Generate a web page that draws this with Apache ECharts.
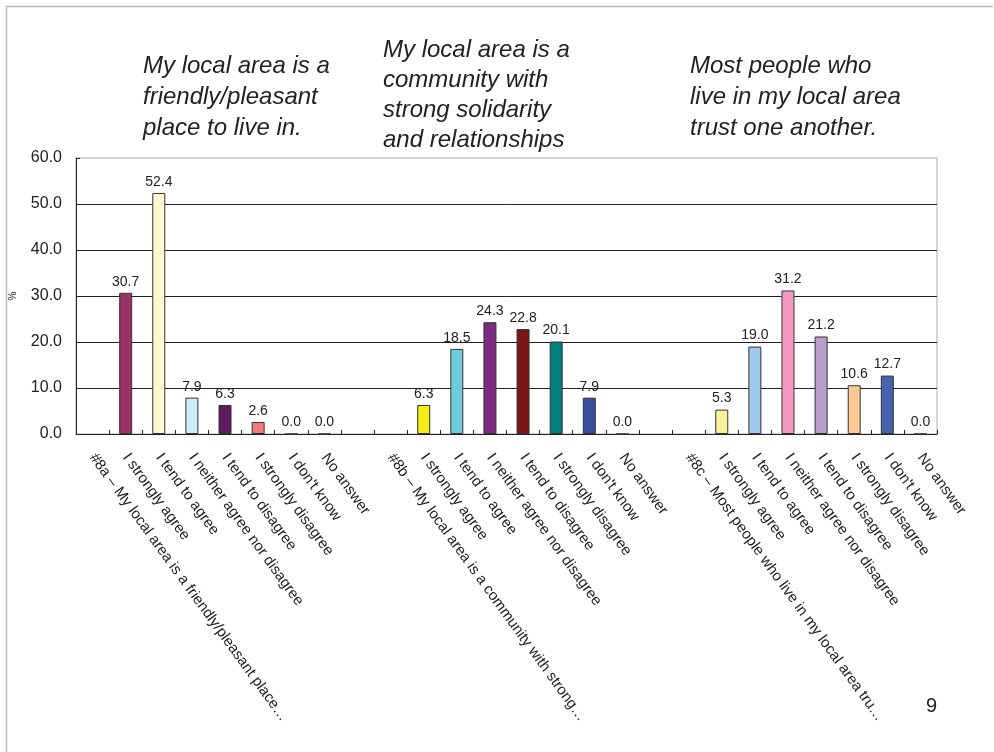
<!DOCTYPE html>
<html>
<head>
<meta charset="utf-8">
<script src="https://cdn.jsdelivr.net/npm/echarts@6/dist/echarts.min.js"></script>
<style>
  html, body { margin: 0; padding: 0; background: #fff; }
  #chart { width: 994px; height: 752px; }
</style>
</head>
<body>
<div id="chart"></div>
<script>
// categories: question header, 7 answers, spacer
const categories = [
  '#8a \u2013 My local area is a friendly/pleasant place\u2026',
  'I strongly agree', 'I tend to agree', 'I neither agree nor disagree',
  'I tend to disagree', 'I strongly disagree', "I don't know", 'No answer',
  '',
  '#8b \u2013 My local area is a community with strong\u2026',
  'I strongly agree', 'I tend to agree', 'I neither agree nor disagree',
  'I tend to disagree', 'I strongly disagree', "I don't know", 'No answer',
  '',
  '#8c \u2013 Most people who live in my local area tru\u2026',
  'I strongly agree', 'I tend to agree', 'I neither agree nor disagree',
  'I tend to disagree', 'I strongly disagree', "I don't know", 'No answer'
];

const values = [
  null, 30.7, 52.4, 7.9, 6.3, 2.6, 0.0, 0.0,
  null,
  null, 6.3, 18.5, 24.3, 22.8, 20.1, 7.9, 0.0,
  null,
  null, 5.3, 19.0, 31.2, 21.2, 10.6, 12.7, 0.0
];

const barColors = [
  null, '#993366', '#FCF8D0', '#D0ECF4', '#5E1A5E', '#F47C7C', '#CCCCCC', '#CCCCCC',
  null,
  null, '#F6EC16', '#6CCCDC', '#7E2A80', '#7C1619', '#00807E', '#3A4DA0', '#CCCCCC',
  null,
  null, '#F9F29A', '#A0C8EC', '#F49AC2', '#B89CCC', '#FCC894', '#4662AE', '#CCCCCC'
];

const yTicks = [0, 60, 10]; // min, max, interval

const titles = [
  'My local area is a\nfriendly/pleasant\nplace to live in.',
  'My local area is a\ncommunity with\nstrong solidarity\nand relationships',
  'Most people who\nlive in my local area\ntrust one another.'
];

const FONT = '"Liberation Sans", Arial, sans-serif';

const chart = echarts.init(document.getElementById('chart'));

const titleStyle = {
  fontFamily: FONT, fontStyle: 'italic', fontWeight: 'normal',
  fontSize: 24, lineHeight: 31, color: '#222'
};

chart.setOption({
  backgroundColor: '#fff',
  animation: false,
  title: [
    { text: titles[0], left: 143, top: 51, padding: 0, textStyle: titleStyle },
    { text: titles[1], left: 383, top: 35, padding: 0, textStyle: Object.assign({}, titleStyle, { lineHeight: 30 }) },
    { text: titles[2], left: 690, top: 51, padding: 0, textStyle: titleStyle }
  ],
  graphic: [
    { type: 'line', shape: { x1: 6, y1: 6.5, x2: 993, y2: 6.5 }, style: { stroke: '#bbb', lineWidth: 1.5 } },
    { type: 'line', shape: { x1: 6.5, y1: 6, x2: 6.5, y2: 752 }, style: { stroke: '#bbb', lineWidth: 1.5 } },
    { type: 'text', left: 926, top: 696, style: { text: '9', font: '20px ' + FONT, fill: '#222' } }
  ],
  grid: {
    left: 76, right: 57, top: 158, bottom: 318,
    show: true, borderColor: '#aaa', borderWidth: 1
  },
  xAxis: {
    type: 'category',
    data: categories,
    boundaryGap: true,
    axisLine: { lineStyle: { color: '#222', width: 1 } },
    axisTick: { show: true, inside: true, length: 4, lineStyle: { color: '#222' } },
    axisLabel: {
      interval: 0, rotate: -54, margin: 21,
      fontFamily: FONT, fontSize: 15, color: '#222'
    }
  },
  yAxis: {
    type: 'value',
    min: yTicks[0], max: yTicks[1], interval: yTicks[2],
    name: '%',
    nameLocation: 'middle', nameRotate: 90, nameGap: 58,
    nameTextStyle: { fontFamily: FONT, fontSize: 10, color: '#222' },
    axisLine: { show: true, lineStyle: { color: '#222', width: 1 } },
    axisTick: { show: true, inside: true, length: 4, lineStyle: { color: '#222' } },
    axisLabel: {
      margin: 14, fontFamily: FONT, fontSize: 16, color: '#222',
      formatter: (v) => v.toFixed(1)
    },
    splitLine: { show: true, showMaxLine: false, lineStyle: { color: '#222', width: 1 } }
  },
  series: [{
    type: 'bar',
    barWidth: 13,
    data: values.map((v, i) => ({
      value: v,
      itemStyle: { color: barColors[i] || '#ccc', borderColor: '#333', borderWidth: 1 }
    })),
    label: {
      show: true, position: 'top', distance: 4,
      fontFamily: FONT, fontSize: 14, color: '#222',
      formatter: (p) => (p.value == null ? '' : Number(p.value).toFixed(1))
    }
  }]
});
</script>
</body>
</html>
